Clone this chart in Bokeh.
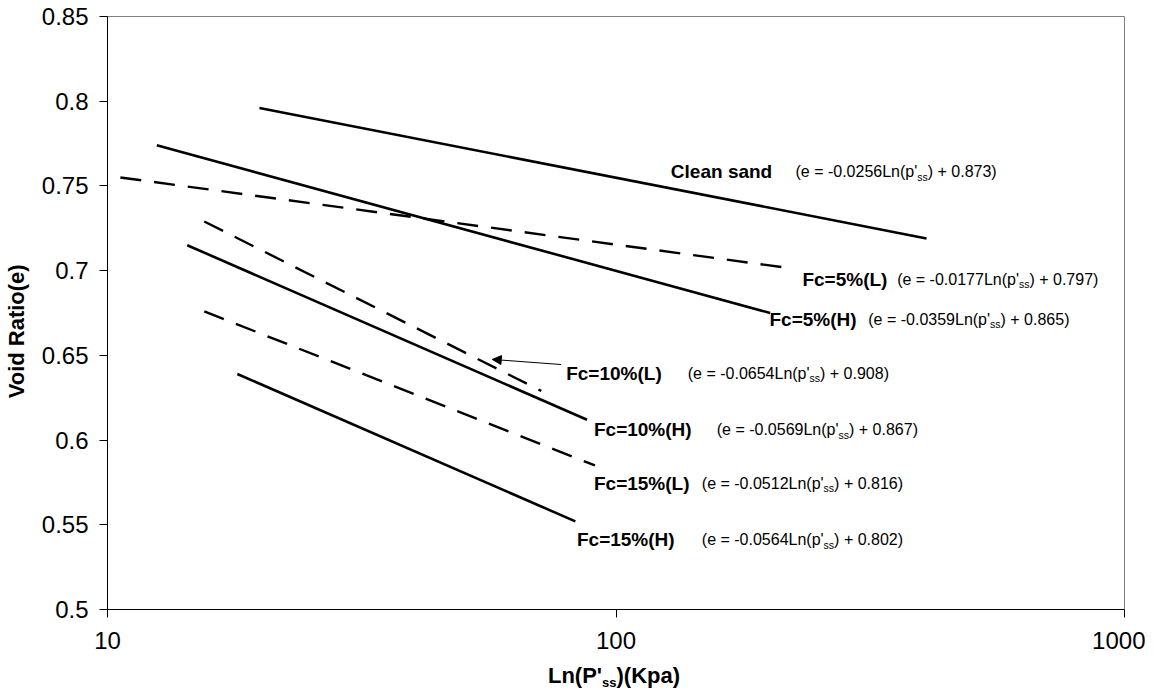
from bokeh.plotting import figure
from bokeh.layouts import column
from bokeh.models import FixedTicker, Label, Arrow, NormalHead, CustomJSTickFormatter, Div
from bokeh.embed import file_html
from bokeh.resources import INLINE

# ---------------- data ----------------
series = ["Clean sand", "Fc=5%(L)", "Fc=5%(H)", "Fc=10%(L)", "Fc=10%(H)", "Fc=15%(L)", "Fc=15%(H)"]
p_start = [19.9, 10.6, 12.5, 15.5, 14.35, 15.5, 18.0]
p_end = [408.0, 213.0, 201.0, 71.3, 87.7, 90.9, 83.2]
e_start = [0.796, 0.755, 0.774, 0.729, 0.715, 0.676, 0.639]
e_end = [0.719, 0.702, 0.675, 0.629, 0.612, 0.585, 0.552]
dashed = [False, True, False, True, False, True, False]
slopes = ["-0.0256", "-0.0177", "-0.0359", "-0.0654", "-0.0569", "-0.0512", "-0.0564"]
intercepts = ["0.873", "0.797", "0.865", "0.908", "0.867", "0.816", "0.802"]

# label anchors (data coordinates: pressure, void ratio)
label_p = [128.2, 232.6, 200.4, 79.8, 90.5, 90.5, 83.8]
label_e = [0.7585, 0.6948, 0.6712, 0.6393, 0.6062, 0.5744, 0.5413]
eq_p = [225.4, 357.2, 313.4, 138.4, 157.8, 147.5, 147.5]

arrow_from = (78.0, 0.6446)
arrow_to = (57.1, 0.6476)

x_ticks = [10, 100, 1000]
x_tick_labels = ["10", "100", "1000"]
y_ticks = [0.5, 0.55, 0.6, 0.65, 0.7, 0.75, 0.8, 0.85]
y_tick_labels = ["0.5", "0.55", "0.6", "0.65", "0.7", "0.75", "0.8", "0.85"]

FONT = "Liberation Sans"

# Arial / Liberation Sans advance widths (per 1000 em) for text composition
REG = {" ": 278, "(": 333, ")": 333, "e": 556, "=": 584, "-": 333, ".": 278, "L": 556,
       "n": 556, "p": 556, "'": 191, "s": 500, "+": 584}


def text_w(s, size):
    return sum(REG.get(c, 556) for c in s) / 1000.0 * size


W, H = 1145, 660
p = figure(width=W, height=H, x_axis_type="log", x_range=(10, 1000), y_range=(0.5, 0.85),
           output_backend="svg", toolbar_location=None,
           min_border_left=104, min_border_right=21, min_border_top=16, min_border_bottom=51)
p.background_fill_color = "white"
p.border_fill_color = "white"
p.outline_line_color = "#808080"
p.outline_line_width = 1
p.xgrid.grid_line_color = None
p.ygrid.grid_line_color = None

for ax in (p.xaxis[0], p.yaxis[0]):
    ax.axis_line_color = "black"
    ax.axis_line_width = 1
    ax.major_tick_line_color = "black"
    ax.major_tick_out = 8
    ax.major_tick_in = 0
    ax.minor_tick_line_color = None
    ax.major_label_text_font = FONT
    ax.major_label_text_font_size = "24px"
    ax.major_label_text_color = "black"

p.xaxis.ticker = FixedTicker(ticks=x_ticks)
p.xaxis.formatter = CustomJSTickFormatter(args=dict(labels=x_tick_labels), code="return labels[index];")
p.xaxis.major_label_standoff = 14
p.yaxis.ticker = FixedTicker(ticks=y_ticks)
p.yaxis.formatter = CustomJSTickFormatter(args=dict(labels=y_tick_labels), code="return labels[index];")
p.yaxis.major_label_standoff = 11

# trailing no-break spaces nudge the rotated title slightly below the frame centre, as in the reference
p.yaxis.axis_label = "Void Ratio(e)" + "\u00a0" * 6
p.yaxis.axis_label_text_font = FONT
p.yaxis.axis_label_text_font_style = "bold"
p.yaxis.axis_label_text_font_size = "22px"
p.yaxis.axis_label_text_color = "black"
p.yaxis.axis_label_standoff = 10

# ---------------- lines ----------------
for i in range(len(series)):
    p.line(x=[p_start[i], p_end[i]], y=[e_start[i], e_end[i]], line_color="black",
           line_width=2.6 if not dashed[i] else 2.4,
           line_dash="21 13" if dashed[i] else "solid")

# ---------------- labels and equations ----------------
EQ_SIZE = 16
SUB_SIZE = 10.5
for i in range(len(series)):
    p.add_layout(Label(x=label_p[i], y=label_e[i], text=series[i], text_font=FONT,
                       text_font_style="bold", text_font_size="19px", text_color="black",
                       text_align="left", text_baseline="middle"))
    pre = "(e = " + slopes[i] + "Ln(p'"
    post = ") + " + intercepts[i] + ")"
    w_pre = text_w(pre, EQ_SIZE)
    w_sub = text_w("ss", SUB_SIZE)
    p.add_layout(Label(x=eq_p[i], y=label_e[i], text=pre, text_font=FONT,
                       text_font_size=f"{EQ_SIZE}px", text_color="black",
                       text_align="left", text_baseline="middle"))
    p.add_layout(Label(x=eq_p[i], y=label_e[i], x_offset=w_pre, y_offset=-5, text="ss",
                       text_font=FONT, text_font_size=f"{SUB_SIZE}px", text_color="black",
                       text_align="left", text_baseline="middle"))
    p.add_layout(Label(x=eq_p[i], y=label_e[i], x_offset=w_pre + w_sub, text=post,
                       text_font=FONT, text_font_size=f"{EQ_SIZE}px", text_color="black",
                       text_align="left", text_baseline="middle"))

p.add_layout(Arrow(end=NormalHead(size=9, fill_color="black", line_color="black", line_width=1),
                   x_start=arrow_from[0], y_start=arrow_from[1],
                   x_end=arrow_to[0], y_end=arrow_to[1],
                   line_color="black", line_width=1))

# ---------------- x-axis title (HTML, for the subscript) ----------------
frame_centre = 104 + 510  # frame left border + half frame width
box_w = 400
box_left = frame_centre - box_w // 2
x_title = Div(
    text=(f"<div style=\"display:block; position:relative; top:5px; left:{box_left}px; width:{box_w}px; "
          f"text-align:center; font-family:'{FONT}'; font-weight:bold; font-size:22px; line-height:22px; "
          f"color:#000; white-space:nowrap;\">Ln(P'<span style=\"font-size:13px; position:relative; "
          f"top:4px;\">ss</span>)(Kpa)</div>"),
    width=W, height=22, margin=(0, 0, 0, 0))

layout = column(p, x_title, spacing=0)
open("out.html", "w").write(file_html(layout, INLINE))
